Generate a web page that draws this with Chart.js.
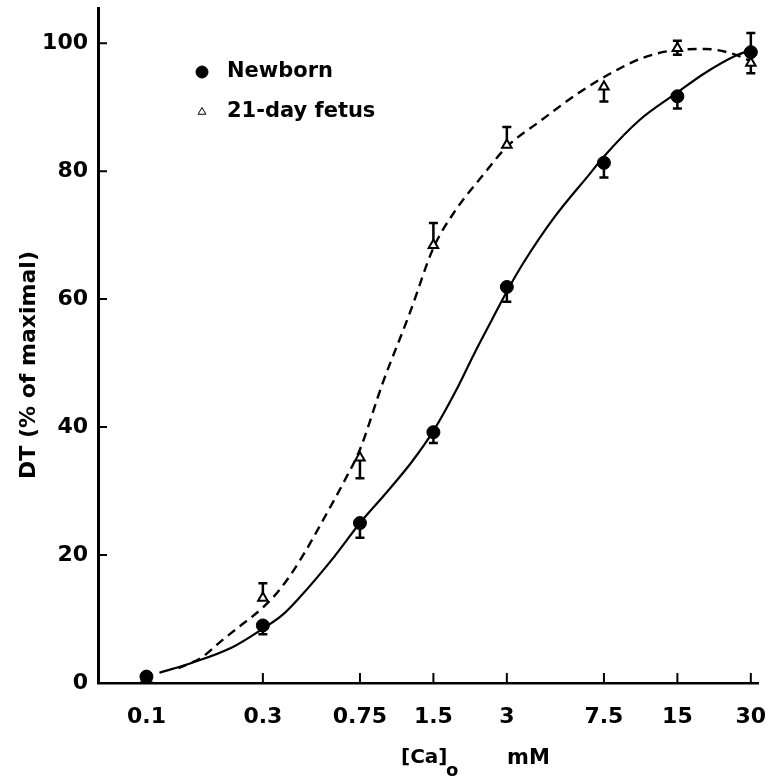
<!DOCTYPE html>
<html>
<head>
<meta charset="utf-8">
<script src="https://cdn.jsdelivr.net/npm/chart.js@4.4.0/dist/chart.umd.min.js"></script>
<style>
    html, body { margin: 0; padding: 0; background: #fff; }
    #chart { display: block; }
</style>
</head>
<body>
<canvas id="chart" width="775" height="782"></canvas>
<script>
// Extracellular Ca concentration (mM), log axis
const concentrations = [0.1, 0.3, 0.75, 1.5, 3, 7.5, 15, 30];
const xTicks = [0.1, 0.3, 0.75, 1.5, 3, 7.5, 15, 30];
const xTickLabels = ['0.1', '0.3', '0.75', '1.5', '3', '7.5', '15', '30'];
const yTicks = [0, 20, 40, 60, 80, 100];

// Measured DT (% of maximal) with one-sided error bars
const newbornValues = [1, 9, 25, 39.2, 61.9, 81.3, 91.7, 98.6];
const newbornErrUp = [0, 0, 0, 0, 0, 0, 0, 3.0];
const newbornErrDown = [0, 1.4, 2.3, 1.7, 2.3, 2.3, 1.9, 0];

const fetusValues = [0.8, 13.3, 35.2, 68.4, 84.1, 93.2, 99.2, 96.9];
const fetusErrUp = [0, 2.3, 0, 3.5, 2.8, 0, 1.2, 0];
const fetusErrDown = [0, 0, 3.2, 0, 0, 2.3, 1.0, 1.6];

// Fitted curves
const newbornFitX = [0.113, 0.152, 0.225, 0.3, 0.36, 0.425, 0.59, 0.75, 0.95, 1.22, 1.5, 1.85, 2.2, 2.6, 3, 3.5, 4.7, 6.6, 7.5, 10.5, 15, 19.4, 26.2, 29.7];
const newbornFitY = [1.6, 3.1, 5.6, 8.5, 10.6, 13.4, 19.8, 25, 29.5, 34.5, 39.4, 45.6, 51.4, 56.7, 61.2, 65.6, 72.8, 79.7, 82.3, 88, 92.3, 95.3, 98.1, 98.9];

const fetusFitX = [0.135, 0.17, 0.2, 0.24, 0.3, 0.35, 0.42, 0.55, 0.65, 0.75, 0.93, 1.2, 1.5, 1.85, 2.35, 3, 4.1, 5.9, 8, 10.8, 14.6, 19.6, 25, 30];
const fetusFitY = [2.3, 4.1, 6.4, 8.8, 11.8, 14.5, 18.8, 26.6, 31.7, 36.5, 46.9, 57.8, 68, 73.9, 79, 83.8, 87.8, 92.2, 95.3, 97.7, 98.9, 99.1, 98.4, 97.2];

const FONT = "'DejaVu Sans', sans-serif";

function toPoints(xs, ys) {
    return xs.map((x, i) => ({ x: x, y: ys[i] }));
}

// Error bars: a stem from the mean and a short cap at its end
const errorBarPlugin = {
    id: 'errorBars',
    beforeDatasetsDraw(chart) {
        const { ctx, scales: { x, y } } = chart;
        ctx.save();
        ctx.strokeStyle = '#000';
        ctx.lineWidth = 2.5;
        chart.data.datasets.forEach(ds => {
            if (!ds.errUp) return;
            ds.data.forEach((pt, i) => {
                const px = x.getPixelForValue(pt.x);
                const py = y.getPixelForValue(pt.y);
                [[ds.errUp[i], 1], [ds.errDown[i], -1]].forEach(([e, dir]) => {
                    if (!e) return;
                    const ey = y.getPixelForValue(pt.y + dir * e);
                    ctx.beginPath();
                    ctx.moveTo(px, py);
                    ctx.lineTo(px, ey);
                    ctx.moveTo(px - 4.5, ey);
                    ctx.lineTo(px + 4.5, ey);
                    ctx.stroke();
                });
            });
        });
        ctx.restore();
    }
};

// Tick marks pointing into the plot
const inwardTicksPlugin = {
    id: 'inwardTicks',
    afterDraw(chart) {
        const { ctx, chartArea, scales: { x, y } } = chart;
        ctx.save();
        ctx.strokeStyle = '#000';
        ctx.lineWidth = 2;
        ctx.beginPath();
        y.ticks.forEach(t => {
            const py = y.getPixelForValue(t.value);
            ctx.moveTo(chartArea.left, py);
            ctx.lineTo(chartArea.left + 9, py);
        });
        x.ticks.forEach(t => {
            const px = x.getPixelForValue(t.value);
            ctx.moveTo(px, chartArea.bottom);
            ctx.lineTo(px, chartArea.bottom - 10);
        });
        ctx.stroke();
        ctx.restore();
    }
};

// Legend inside the plot plus the axis titles (subscript needs manual drawing)
const labelsPlugin = {
    id: 'labels',
    afterDraw(chart) {
        const { ctx, chartArea } = chart;
        ctx.save();
        ctx.fillStyle = '#000';
        ctx.textBaseline = 'middle';

        // legend
        const lx = chartArea.left + 104;
        const rows = [chartArea.top + 64, chartArea.top + 104];
        chart.data.datasets.slice(0, 2).forEach((ds, i) => {
            ctx.fillStyle = ds.backgroundColor;
            ctx.strokeStyle = ds.borderColor;
            Chart.helpers.drawPoint(ctx, {
                pointStyle: ds.pointStyle,
                radius: ds.pointStyle === 'circle' ? 6 : 4.5,
                borderWidth: ds.pointBorderWidth || 1,
                rotation: 0
            }, lx, rows[i]);
            ctx.fillStyle = '#000';
            ctx.font = 'bold 21px ' + FONT;
            ctx.textAlign = 'left';
            ctx.fillText(ds.label, lx + 25, rows[i]);
        });

        // y title
        ctx.save();
        ctx.translate(29, 365);
        ctx.rotate(-Math.PI / 2);
        ctx.textAlign = 'center';
        ctx.font = 'bold 22px ' + FONT;
        ctx.fillText('DT (% of maximal)', 0, 0);
        ctx.restore();

        // x title: [Ca]o  mM
        ctx.textAlign = 'left';
        ctx.font = 'bold 20px ' + FONT;
        ctx.fillText('[Ca]', 401, 758);
        ctx.font = 'bold 18px ' + FONT;
        ctx.fillText('o', 446, 771);
        ctx.font = 'bold 21px ' + FONT;
        ctx.fillText('mM', 507, 759);
        ctx.restore();
    }
};

new Chart(document.getElementById('chart'), {
    type: 'line',
    data: {
        datasets: [
            {
                label: 'Newborn',
                data: toPoints(concentrations, newbornValues),
                showLine: false,
                pointStyle: 'circle',
                pointRadius: 6.5,
                backgroundColor: '#000',
                borderColor: '#000',
                pointBorderWidth: 1,
                errUp: newbornErrUp,
                errDown: newbornErrDown
            },
            {
                label: '21-day fetus',
                data: toPoints(concentrations, fetusValues),
                showLine: false,
                pointStyle: 'triangle',
                pointRadius: 5.5,
                backgroundColor: '#fff',
                borderColor: '#000',
                pointBorderWidth: 2,
                errUp: fetusErrUp,
                errDown: fetusErrDown
            },
            {
                label: 'Newborn fit',
                data: toPoints(newbornFitX, newbornFitY),
                borderColor: '#000',
                borderWidth: 2.2,
                pointRadius: 0,
                cubicInterpolationMode: 'monotone',
                fill: false
            },
            {
                label: 'Fetus fit',
                data: toPoints(fetusFitX, fetusFitY),
                borderColor: '#000',
                borderWidth: 2.4,
                borderDash: [9, 6],
                pointRadius: 0,
                cubicInterpolationMode: 'monotone',
                fill: false
            }
        ]
    },
    options: {
        responsive: false,
        devicePixelRatio: 1,
        animation: false,
        layout: { padding: { top: 8, right: 17, left: 0, bottom: 0 } },
        plugins: {
            legend: { display: false },
            tooltip: { enabled: false }
        },
        scales: {
            x: {
                type: 'logarithmic',
                min: 0.0633,
                max: 32.1,
                afterBuildTicks: s => { s.ticks = xTicks.map(v => ({ value: v })); },
                afterFit: s => {
                    s.height = 99;
                    s.paddingLeft = 0;
                    s.paddingRight = 0;
                },
                grid: { display: false, drawTicks: false },
                border: { display: true, color: '#000', width: 2.5 },
                ticks: {
                    autoSkip: false,
                    maxRotation: 0,
                    padding: 21,
                    color: '#000',
                    font: { family: FONT, size: 22, weight: 'bold' },
                    callback: (v, i) => xTickLabels[i]
                }
            },
            y: {
                min: 0,
                max: 105.5,
                afterBuildTicks: s => { s.ticks = yTicks.map(v => ({ value: v })); },
                afterFit: s => {
                    s.width = 98;
                    s.paddingTop = 0;
                    s.paddingBottom = 0;
                },
                grid: { display: false, drawTicks: false },
                border: { display: true, color: '#000', width: 3 },
                ticks: {
                    padding: 10,
                    color: '#000',
                    font: { family: FONT, size: 22, weight: 'bold' },
                    callback: v => String(v)
                }
            }
        }
    },
    plugins: [errorBarPlugin, inwardTicksPlugin, labelsPlugin]
});
</script>
</body>
</html>
